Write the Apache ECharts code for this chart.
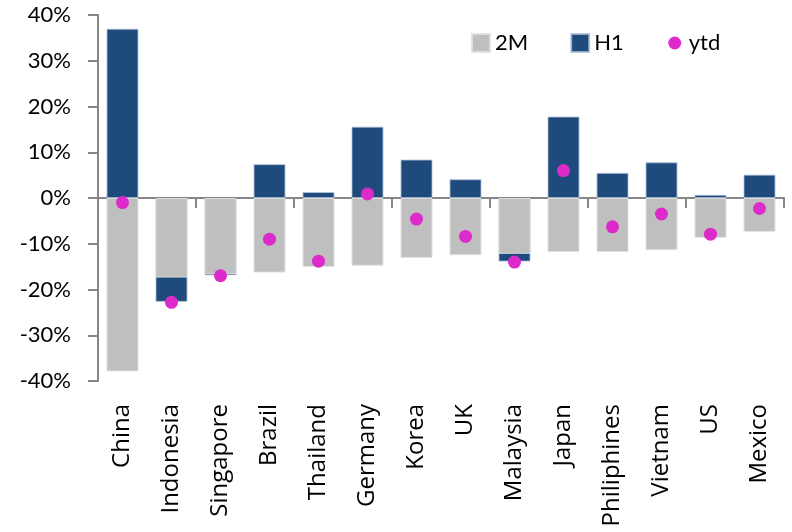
<!DOCTYPE html>
<html>
<head>
<meta charset="utf-8">
<script src="https://cdn.jsdelivr.net/npm/echarts@6/dist/echarts.min.js"></script>
<style>html,body{margin:0;padding:0;background:#fff}#c{width:792px;height:532px}</style>
</head>
<body>
<div id="c"></div>
<script>
const categories = ['China','Indonesia','Singapore','Brazil','Thailand','Germany','Korea','UK','Malaysia','Japan','Philiphines','Vietnam','US','Mexico'];
const twoM = [-37.9,-17.4,-16.6,-16.3,-15.1,-14.8,-13.1,-12.5,-12.2,-11.8,-11.8,-11.4,-8.7,-7.4];
const h1 = [37.0,-22.7,-16.9,7.4,1.3,15.6,8.4,4.1,-13.9,17.8,5.5,7.8,0.7,5.1];
const ytd = [-1.0,-22.8,-17.0,-9.0,-13.8,0.9,-4.6,-8.4,-14.0,6.0,-6.3,-3.5,-7.9,-2.3];
const yTicks = {min:-40, max:40, interval:10};

const chart = echarts.init(document.getElementById('c'), null, {renderer:'canvas'});
const axisGray = '#868686';
chart.setOption({
  animation:false,
  backgroundColor:'#fff',
  textStyle:{fontFamily:'Lato'},
  legend:{
    left:466, top:27, itemWidth:18, itemHeight:18, itemGap:42,
    textStyle:{fontFamily:'Lato', fontSize:22, color:'#000'},
    data:[
      {name:'2M', icon:'rect'},
      {name:'H1', icon:'rect'},
      {name:'ytd', icon:'path://M0,0h0.001v0.001zM18,18h0.001v0.001zM2.5,9a6.5,6.5 0 1,0 13,0a6.5,6.5 0 1,0 -13,0z'}
    ]
  },
  grid:{left:98, right:8, top:15, bottom:151, containLabel:false},
  xAxis:[
    {type:'category', data:categories, position:'bottom',
     axisLine:{show:false, onZero:false}, axisTick:{show:false},
     axisLabel:{rotate:90, margin:23, fontFamily:'Open Sans', fontSize:24, color:'#000', interval:0}},
    {type:'category', data:categories, position:'top',
     axisLine:{show:true, onZero:true, lineStyle:{color:axisGray, width:2}},
     axisTick:{show:true, inside:true, length:10, lineStyle:{color:axisGray, width:2}},
     axisLabel:{show:false}}
  ],
  yAxis:{
    type:'value', min:yTicks.min, max:yTicks.max, interval:yTicks.interval,
    axisLine:{show:true, onZero:false, lineStyle:{color:axisGray, width:2}},
    axisTick:{show:true, length:10, lineStyle:{color:axisGray, width:2}},
    splitLine:{show:false},
    axisLabel:{formatter:'{value}%', margin:27, fontFamily:'Lato', fontSize:22, color:'#000'}
  },
  series:[
    {name:'H1', type:'bar', xAxisIndex:0, data:h1, barWidth:32, barGap:'-100%',
     itemStyle:{color:'#1F4A7C', borderColor:'rgba(170,190,215,0.8)', borderWidth:1}},
    {name:'2M', type:'bar', xAxisIndex:0, data:twoM, barWidth:32, barGap:'-100%',
     itemStyle:{color:'#BFBFBF', borderColor:'rgba(225,225,225,0.9)', borderWidth:1}},
    {name:'ytd', type:'scatter', xAxisIndex:0, data:ytd, symbol:'circle', symbolSize:13,
     itemStyle:{color:'#DD2ACB', opacity:1}, z:5}
  ]
});
</script>
</body>
</html>
